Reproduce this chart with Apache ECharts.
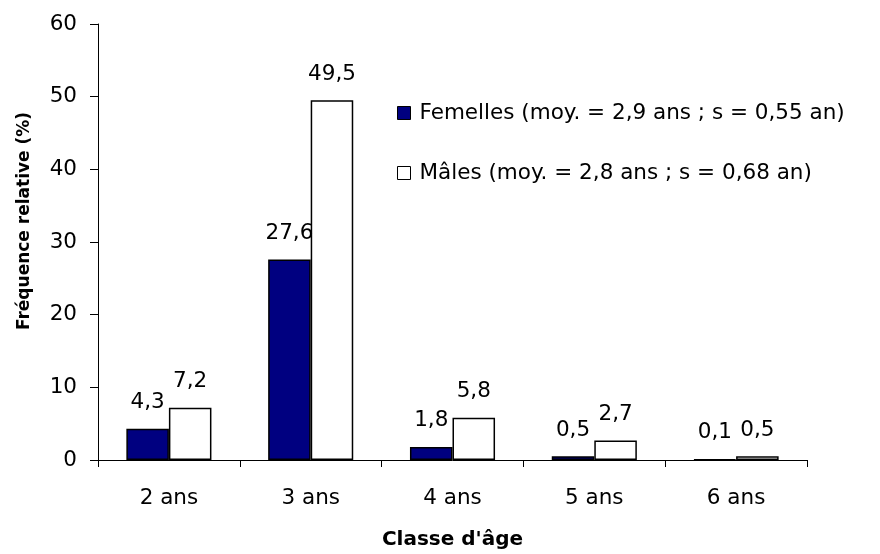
<!DOCTYPE html>
<html>
<head>
<meta charset="utf-8">
<script src="https://cdn.jsdelivr.net/npm/echarts@6/dist/echarts.min.js"></script>
<style>html,body{margin:0;padding:0;background:#fff;}#c{width:880px;height:554px;}</style>
</head>
<body>
<div id="c"></div>
<script>
const categories = ['2 ans', '3 ans', '4 ans', '5 ans', '6 ans'];
const femelles = [4.3, 27.6, 1.8, 0.5, 0.1];
const males = [7.2, 49.5, 5.8, 2.7, 0.5];
const seriesNames = ['Femelles (moy. = 2,9 ans ; s = 0,55 an)', 'Mâles (moy. = 2,8 ans ; s = 0,68 an)'];
const yTicks = [0, 10, 20, 30, 40, 50, 60];

const FONT = 'DejaVu Sans';
const chart = echarts.init(document.getElementById('c'), null, {renderer: 'canvas'});
const fmt = p => String(p.value).replace('.', ',');
const labelStyle = {show: true, position: 'top', distance: 15, formatter: fmt, fontFamily: FONT, fontSize: 21.5, color: '#000'};

chart.setOption({
  animation: false,
  backgroundColor: '#fff',
  grid: {left: 98, right: 73, top: 24, bottom: 94, containLabel: false, outerBoundsMode: 'none'},
  legend: {
    orient: 'vertical', left: 392, top: 97, itemGap: 38,
    itemWidth: 13, itemHeight: 13, icon: 'rect',
    textStyle: {fontFamily: FONT, fontSize: 21.5, color: '#000', padding: [0, 0, 0, 4]},
    data: [
      {name: seriesNames[0], itemStyle: {color: '#000080', borderColor: '#000', borderWidth: 1}},
      {name: seriesNames[1], itemStyle: {color: '#fff', borderColor: '#000', borderWidth: 1}}
    ]
  },
  xAxis: {
    type: 'category', data: categories,
    name: "Classe d'âge", nameLocation: 'middle', nameGap: 70,
    nameTextStyle: {fontFamily: FONT, fontSize: 20, fontWeight: 'bold', color: '#000'},
    axisLine: {lineStyle: {color: '#000', width: 1}},
    axisTick: {show: true, length: 7, alignWithLabel: false, lineStyle: {color: '#000'}},
    axisLabel: {fontFamily: FONT, fontSize: 21.5, color: '#000', margin: 27},
    splitLine: {show: false}
  },
  yAxis: {
    type: 'value', min: yTicks[0], max: yTicks[yTicks.length - 1], interval: 10,
    name: 'Fréquence relative (%)', nameLocation: 'middle', nameGap: 65, nameRotate: 90,
    nameTextStyle: {fontFamily: FONT, fontSize: 17, fontWeight: 'bold', color: '#000', padding: [0, 0, 0, 42]},
    axisLine: {show: true, lineStyle: {color: '#000', width: 1}},
    axisTick: {show: true, length: 8, lineStyle: {color: '#000'}},
    axisLabel: {fontFamily: FONT, fontSize: 21.5, color: '#000', margin: 21},
    splitLine: {show: false}
  },
  series: [
    {name: seriesNames[0], type: 'bar', data: femelles, barGap: '0%', barCategoryGap: '40%',
     itemStyle: {color: '#000080', borderColor: '#000', borderWidth: 1.5}, label: labelStyle},
    {name: seriesNames[1], type: 'bar', data: males, barGap: '0%', barCategoryGap: '40%',
     itemStyle: {color: '#fff', borderColor: '#000', borderWidth: 1.5}, label: labelStyle}
  ]
});
</script>
</body>
</html>
